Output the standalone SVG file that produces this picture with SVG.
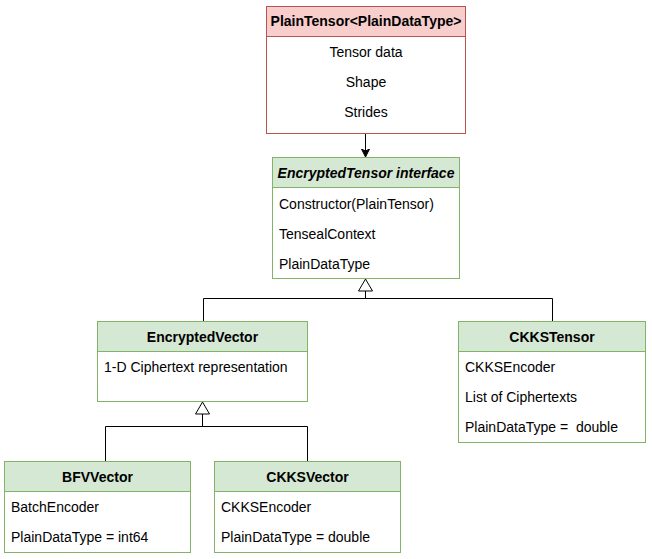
<svg xmlns="http://www.w3.org/2000/svg" width="652" height="559" viewBox="0 0 652 559">
<style>
text{font-family:"Liberation Sans",Arial,sans-serif;font-size:14px;fill:#000}
.t{font-weight:bold;text-anchor:middle}
.c{text-anchor:middle}
.red{fill:#f8cecc;stroke:#b85450;stroke-width:1}
.grn{fill:#d5e8d4;stroke:#82b366;stroke-width:1}
.wr{fill:#fff;stroke:#b85450;stroke-width:1}
.wg{fill:#fff;stroke:#82b366;stroke-width:1}
.ln{fill:none;stroke:#000;stroke-width:1}
.tri{fill:#fff;stroke:#000;stroke-width:1}
</style>
<defs>
<marker id="arr" markerWidth="10" markerHeight="10" refX="7" refY="4" orient="auto" markerUnits="userSpaceOnUse">
<path d="M0,0 L8,4 L0,8 L2,4 Z" fill="#000" stroke="#000" stroke-width="1"/>
</marker>
</defs>
<rect width="652" height="559" fill="#fff"/>
<g id="connectors">
<path class="ln" d="M365.5,133 V156" marker-end="url(#arr)"/>
<path class="ln" d="M365.5,291 V298.5 M203.5,321 V298.5 H552.5 V321"/>
<polygon class="tri" points="365.5,279 358.5,291 372.5,291"/>
<path class="ln" d="M202.5,413 V426.5 M105.5,461 V426.5 H307.5 V461"/>
<polygon class="tri" points="202.5,402 195.5,414 209.5,414"/>
</g>
<g id="plainTensor">
<rect class="wr" x="266.5" y="6.5" width="199" height="127"/>
<rect class="red" x="266.5" y="6.5" width="199" height="30"/>
<text class="t" x="366" y="26">PlainTensor&lt;PlainDataType&gt;</text>
<text class="c" x="366" y="57">Tensor data</text>
<text class="c" x="366" y="87">Shape</text>
<text class="c" x="366" y="117">Strides</text>
</g>
<g id="encryptedTensor">
<rect class="wg" x="272.5" y="157.5" width="187" height="121"/>
<rect class="grn" x="272.5" y="157.5" width="187" height="30"/>
<text class="t" x="366" y="178" font-style="italic">EncryptedTensor interface</text>
<text x="279" y="209">Constructor(PlainTensor)</text>
<text x="279" y="239">TensealContext</text>
<text x="279" y="269">PlainDataType</text>
</g>
<g id="encryptedVector">
<rect class="wg" x="97.5" y="321.5" width="210" height="80"/>
<rect class="grn" x="97.5" y="321.5" width="210" height="30"/>
<text class="t" x="202.5" y="342">EncryptedVector</text>
<text x="104" y="372">1-D Ciphertext representation</text>
</g>
<g id="ckksTensor">
<rect class="wg" x="458.5" y="321.5" width="187" height="121"/>
<rect class="grn" x="458.5" y="321.5" width="187" height="30"/>
<text class="t" x="552" y="342">CKKSTensor</text>
<text x="465" y="372">CKKSEncoder</text>
<text x="465" y="402">List of Ciphertexts</text>
<text x="465" y="432" style="white-space:pre">PlainDataType =  double</text>
</g>
<g id="bfvVector">
<rect class="wg" x="4.5" y="461.5" width="186" height="91"/>
<rect class="grn" x="4.5" y="461.5" width="186" height="30"/>
<text class="t" x="97.5" y="482">BFVVector</text>
<text x="11" y="512">BatchEncoder</text>
<text x="11" y="542">PlainDataType = int64</text>
</g>
<g id="ckksVector">
<rect class="wg" x="214.5" y="461.5" width="186" height="91"/>
<rect class="grn" x="214.5" y="461.5" width="186" height="30"/>
<text class="t" x="307.5" y="482">CKKSVector</text>
<text x="221" y="512">CKKSEncoder</text>
<text x="221" y="542">PlainDataType = double</text>
</g>
</svg>
